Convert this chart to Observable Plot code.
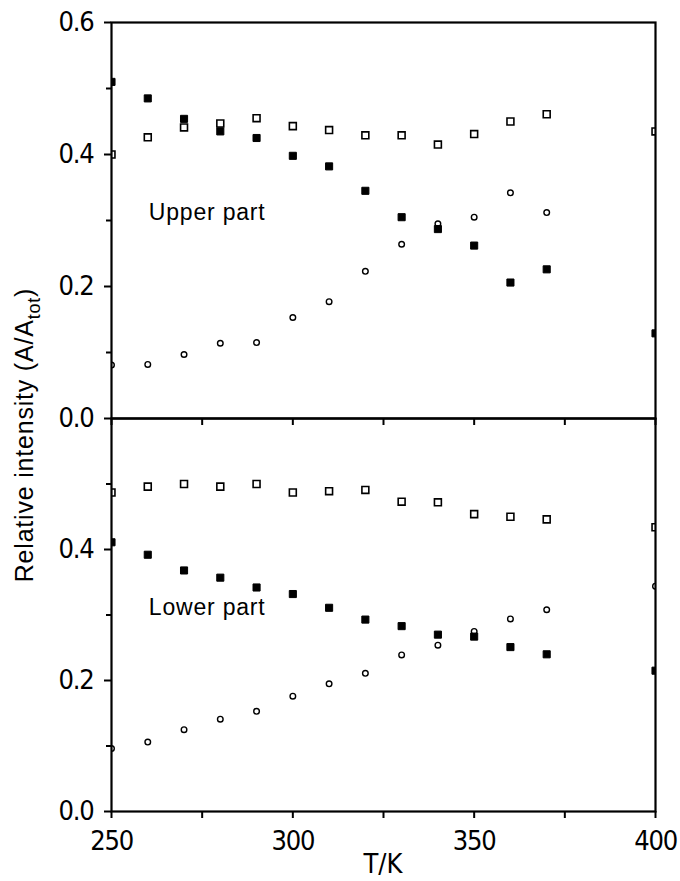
<!DOCTYPE html>
<html>
<head>
<meta charset="utf-8">
<script src="https://cdn.jsdelivr.net/npm/d3@7"></script>
<script src="https://cdn.jsdelivr.net/npm/@observablehq/plot@0.6"></script>
<style>
  body { margin: 0; background: #fff; }
  #chart { position: relative; width: 680px; height: 881px; background: #fff; overflow: hidden; }
  #chart svg { position: absolute; left: 0; overflow: visible; }
  #chart g[aria-label$="tick label"] text { letter-spacing: -1.2px; }
  #chart g[aria-label="text"] text { letter-spacing: 0.8px; }
</style>
</head>
<body>
<div id="chart"></div>
<script>
// ---- data ----
const temperatures = [250, 260, 270, 280, 290, 300, 310, 320, 330, 340, 350, 360, 370, 400];

// Upper part
const upperOpenSquares   = [0.400, 0.426, 0.441, 0.447, 0.455, 0.443, 0.437, 0.429, 0.429, 0.415, 0.431, 0.450, 0.461, 0.435];
const upperFilledSquares = [0.510, 0.485, 0.454, 0.435, 0.425, 0.398, 0.382, 0.345, 0.305, 0.287, 0.262, 0.206, 0.226, 0.129];
const upperOpenCircles   = [0.081, 0.082, 0.097, 0.114, 0.115, 0.153, 0.177, 0.223, 0.264, 0.295, 0.305, 0.342, 0.312, null];

// Lower part
const lowerOpenSquares   = [0.487, 0.496, 0.500, 0.496, 0.500, 0.487, 0.489, 0.491, 0.473, 0.472, 0.454, 0.450, 0.446, 0.434];
const lowerFilledSquares = [0.411, 0.392, 0.368, 0.357, 0.342, 0.332, 0.311, 0.293, 0.283, 0.270, 0.267, 0.251, 0.240, 0.215];
const lowerOpenCircles   = [0.096, 0.106, 0.125, 0.141, 0.153, 0.176, 0.195, 0.211, 0.239, 0.254, 0.275, 0.294, 0.308, 0.344];

// ticks and labels
const xMajorTicks = [250, 300, 350, 400];
const xMinorTicks = [275, 325, 375];
const xAllTicks = [250, 275, 300, 325, 350, 375, 400];
const yTicksUpper = [0, 0.2, 0.4, 0.6];
const yTicksLower = [0, 0.2, 0.4];
const yMinorTicks = [0.1, 0.3, 0.5];
const panelLabels = ["Upper part", "Lower part"];
const xTitle = "T/K";
const yTitleMain = "Relative intensity (A/A";
const yTitleSub = "tot";
const yTitleEnd = ")";

// ---- build tables ----
function series(values) {
  return temperatures.map((T, i) => ({T, v: values[i]})).filter(d => d.v != null);
}

const TICK_FONT = "'Liberation Sans Narrow', 'DejaVu Sans Condensed', 'Liberation Sans', sans-serif";
const LABEL_FONT = "'Liberation Sans', Arial, sans-serif";
const noLabel = () => "";

function panel({openSq, filledSq, circles, yTicks, label, height, marginTop, marginBottom, bottomLabels}) {
  const marks = [
    Plot.dot(series(circles), {x: "T", y: "v", symbol: "circle", r: 2.8, fill: "white", stroke: "black", strokeWidth: 1.4, clip: true}),
    Plot.dot(series(openSq), {x: "T", y: "v", symbol: "square", r: 3.9, fill: "white", stroke: "black", strokeWidth: 1.6, clip: true}),
    Plot.dot(series(filledSq), {x: "T", y: "v", symbol: "square", r: 4.0, fill: "black", stroke: "black", strokeWidth: 1, clip: true}),
    Plot.text([label], {x: 260.3, y: 0.312, text: d => d, textAnchor: "start", fontSize: 23, fontFamily: LABEL_FONT, fill: "black"}),
    Plot.axisY(yTicks, {tickSize: 7, tickPadding: 11, tickFormat: d3.format(".1f"), fontSize: 27, fontFamily: TICK_FONT, strokeWidth: 2, label: null}),
    Plot.axisY(yMinorTicks, {tickSize: 5, tickFormat: noLabel, strokeWidth: 2, label: null}),
    Plot.frame({stroke: "black", strokeWidth: 2.2})
  ];
  if (bottomLabels) {
    marks.push(
      Plot.axisX(xMajorTicks, {anchor: "bottom", tickSize: 7, tickPadding: 12, tickFormat: d3.format("d"), fontSize: 27, fontFamily: TICK_FONT, strokeWidth: 2, label: null}),
      Plot.axisX(xMinorTicks, {anchor: "bottom", tickSize: 7, tickFormat: noLabel, strokeWidth: 2, label: null})
    );
  } else {
    marks.push(
      Plot.axisX(xAllTicks, {anchor: "bottom", tickSize: 7, tickFormat: noLabel, strokeWidth: 2, label: null})
    );
  }
  return Plot.plot({
    width: 680,
    height,
    marginLeft: 111,
    marginRight: 25,
    marginTop,
    marginBottom,
    x: {domain: [250, 400]},
    y: {domain: [0, 0.6]},
    style: {background: "transparent", color: "black", fontFamily: TICK_FONT},
    marks
  });
}

const chart = document.getElementById("chart");

const upper = panel({
  openSq: upperOpenSquares, filledSq: upperFilledSquares, circles: upperOpenCircles,
  yTicks: yTicksUpper, label: panelLabels[0],
  height: 440, marginTop: 22, marginBottom: 22, bottomLabels: false
});
upper.style.top = "0px";

const lower = panel({
  openSq: lowerOpenSquares, filledSq: lowerFilledSquares, circles: lowerOpenCircles,
  yTicks: yTicksLower, label: panelLabels[1],
  height: 475, marginTop: 12, marginBottom: 70, bottomLabels: true
});
lower.style.top = "406px";

chart.appendChild(upper);
chart.appendChild(lower);

// axis titles (overlay)
const ns = "http://www.w3.org/2000/svg";
const overlay = document.createElementNS(ns, "svg");
overlay.setAttribute("width", 680);
overlay.setAttribute("height", 881);
overlay.style.top = "0px";
overlay.style.pointerEvents = "none";

const yt = document.createElementNS(ns, "text");
yt.setAttribute("transform", "translate(33,435) rotate(-90)");
yt.setAttribute("text-anchor", "middle");
yt.setAttribute("font-family", LABEL_FONT);
yt.setAttribute("font-size", 25);
yt.setAttribute("letter-spacing", "0.8");
yt.appendChild(document.createTextNode(yTitleMain));
const sub = document.createElementNS(ns, "tspan");
sub.setAttribute("dy", 7);
sub.setAttribute("font-size", 18);
sub.textContent = yTitleSub;
yt.appendChild(sub);
const end = document.createElementNS(ns, "tspan");
end.setAttribute("dy", -7);
end.textContent = yTitleEnd;
yt.appendChild(end);
overlay.appendChild(yt);

const xt = document.createElementNS(ns, "text");
xt.setAttribute("x", 383);
xt.setAttribute("y", 873);
xt.setAttribute("text-anchor", "middle");
xt.setAttribute("font-family", TICK_FONT);
xt.setAttribute("font-size", 27);
xt.textContent = xTitle;
overlay.appendChild(xt);

chart.appendChild(overlay);
</script>
</body>
</html>
